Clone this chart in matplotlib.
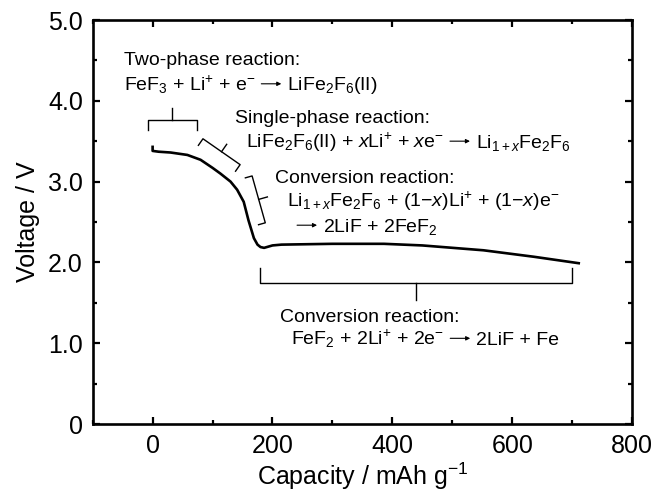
import numpy as np
import matplotlib
matplotlib.use('Agg')
import matplotlib.pyplot as plt
from matplotlib.ticker import MultipleLocator
from matplotlib.transforms import IdentityTransform

plt.rcParams['font.family'] = ['Liberation Sans', 'DejaVu Sans']
plt.rcParams['mathtext.fontset'] = 'custom'
plt.rcParams['mathtext.rm'] = 'Liberation Sans'
plt.rcParams['mathtext.it'] = 'Liberation Sans:italic'
plt.rcParams['mathtext.bf'] = 'Liberation Sans:bold'

# discharge curve
capacity = [0, 0, 10, 30, 58, 80, 100, 113, 130, 141, 152, 160, 169, 175, 180,
            186, 200, 215, 300, 386, 450, 552, 636, 711]
voltage = [3.43, 3.38, 3.37, 3.36, 3.33, 3.27, 3.17, 3.10, 3.00, 2.90, 2.75, 2.52,
           2.30, 2.22, 2.19, 2.18, 2.21, 2.22, 2.23, 2.23, 2.21, 2.15, 2.07, 1.99]

xticks = [0, 200, 400, 600, 800]
yticks = [0, 1, 2, 3, 4, 5]
ytick_labels = ['0', '1.0', '2.0', '3.0', '4.0', '5.0']

# brackets: end points (data), hook length px, stem length px, hook side
brackets = [
    ((-8, 3.76), (74, 3.76), 10, 12, -1),
    ((84, 3.53), (146, 3.21), 8, 9, -1),
    ((166, 3.07), (188, 2.49), 7, 9, -1),
    ((179, 1.745), (700, 1.745), 15, 17, 1),
]

# (x, y, pieces) left/baseline in data coordinates; an arrow goes between pieces
labels = [
    (-48, 4.44, ['Two-phase reaction:']),
    (-48, 4.13, [r'FeF$_3$ + Li$^{+}$ + e$^{-}$', r'LiFe$_2$F$_6$(II)']),
    (137, 3.73, ['Single-phase reaction:']),
    (156, 3.42, [r'LiFe$_2$F$_6$(II) + $x$Li$^{+}$ + $x$e$^{-}$',
                 r'Li$_{1+x}$Fe$_2$F$_6$']),
    (204, 2.98, ['Conversion reaction:']),
    (224, 2.69, [r'Li$_{1+x}$Fe$_2$F$_6$ + (1−$x$)Li$^{+}$ + (1−$x$)e$^{-}$']),
    (241, 2.38, ['', r'2LiF + 2FeF$_2$']),
    (212, 1.26, ['Conversion reaction:']),
    (231, 0.98, [r'FeF$_2$ + 2Li$^{+}$ + 2e$^{-}$', '2LiF + Fe']),
]

fig = plt.figure(figsize=(6.55, 4.94), dpi=100)
ax = fig.add_axes([0.1415, 0.1417, 0.8235, 0.8178])

ax.plot(capacity, voltage, color='black', lw=1.9, solid_joinstyle='round')

ax.set_xlim(-100, 800)
ax.set_ylim(0, 5)
ax.set_xticks(xticks)
ax.set_yticks(yticks)
ax.set_yticklabels(ytick_labels)
ax.xaxis.set_minor_locator(MultipleLocator(100))
ax.yaxis.set_minor_locator(MultipleLocator(0.5))
ax.tick_params(which='both', direction='in', top=True, right=True,
               width=1.6, labelsize=18, pad=7)
ax.tick_params(which='major', length=5)
ax.tick_params(which='minor', length=3)
for s in ax.spines.values():
    s.set_linewidth(1.9)

ax.set_xlabel(r'Capacity / mAh g$^{-1}$', fontsize=18, labelpad=2)
ax.set_ylabel('Voltage / V', fontsize=18, labelpad=6)


def draw_bracket(ax, p0, p1, hook, stem, side):
    a = ax.transData.transform(p0)
    b = ax.transData.transform(p1)
    d = b - a
    n = np.array([-d[1], d[0]]) / np.hypot(*d)
    m = (a + b) / 2
    pts = np.array([a + side * hook * n, a, b, b + side * hook * n])
    stem_pts = np.array([m, m - side * stem * n])
    inv = ax.transData.inverted()
    for p in (pts, stem_pts):
        q = inv.transform(p)
        ax.plot(q[:, 0], q[:, 1], color='black', lw=1.0, clip_on=False)


for p0, p1, hook, stem, side in brackets:
    draw_bracket(ax, p0, p1, hook, stem, side)

renderer = fig.canvas.get_renderer()
ident = IdentityTransform()
gap, arrow_len, arrow_rise = 6, 20, 6.5

for x, y, pieces in labels:
    px, py = ax.transData.transform((x, y))
    for i, s in enumerate(pieces):
        if i > 0:
            lead = gap if pieces[i - 1] else 0
            ax.annotate('', xy=(px + lead + arrow_len, py + arrow_rise),
                        xytext=(px + lead, py + arrow_rise),
                        xycoords=ident, textcoords=ident,
                        arrowprops=dict(arrowstyle='-|>', lw=0.8, color='black',
                                        mutation_scale=6, shrinkA=0, shrinkB=0))
            px += lead + arrow_len + gap
        if s:
            t = ax.text(px, py, s, fontsize=14, ha='left', va='baseline',
                        transform=ident)
            px += t.get_window_extent(renderer).width

fig.savefig('out.png', dpi=100)
